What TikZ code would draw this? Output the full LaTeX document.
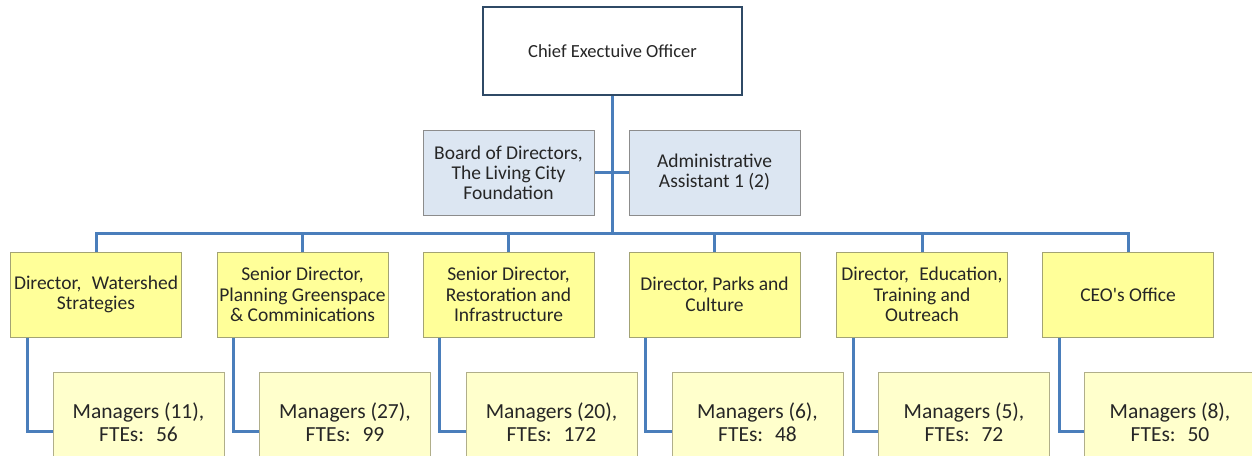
\documentclass[tikz,border=0pt]{standalone}
\usepackage{fontspec}
\setmainfont{Carlito}
\definecolor{conn}{HTML}{4A7EBB}
\definecolor{ceoline}{HTML}{2F4A66}
\definecolor{dirfill}{HTML}{FFFF99}
\definecolor{dirline}{HTML}{A3A374}
\definecolor{mgrfill}{HTML}{FFFFCC}
\definecolor{mgrline}{HTML}{B0AE8A}
\definecolor{bluefill}{HTML}{DCE6F2}
\definecolor{blueline}{HTML}{8C8C8C}
\begin{document}
\begin{tikzpicture}[x=1pt,y=-1pt,
  boxbase/.style={draw, rectangle, align=center, inner sep=0pt, text=black!85},
  ceobox/.style={boxbase, draw=ceoline, line width=2pt, fill=white, minimum width=259pt, minimum height=88pt, font=\fontsize{18.5}{22}\selectfont},
  bluebox/.style={boxbase, draw=blueline, line width=1pt, fill=bluefill, minimum width=171pt, minimum height=85pt, font=\fontsize{19.5}{20}\selectfont},
  dirbox/.style={boxbase, draw=dirline, line width=1pt, fill=dirfill, minimum width=171pt, minimum height=85pt, font=\fontsize{19.5}{20.7}\selectfont},
  mgrbox/.style={boxbase, draw=mgrline, line width=1pt, fill=mgrfill, minimum width=171pt, minimum height=100pt, font=\fontsize{21.5}{23}\selectfont},
  link/.style={draw=conn, line width=3pt}
]
\clip (0,0) rectangle (1252,455);
\fill[white] (0,0) rectangle (1252,455);

% CEO
\node[ceobox] (ceo) at (612.5,51) {Chief Exectuive Officer};
% staff
\node[bluebox] (board) at (508.5,172.5) {Board of Directors,\\The Living City\\Foundation};
\node[bluebox] (admin) at (714.5,172.5) {Administrative\\Assistant 1 (2)};

% directors
\node[dirbox] (d1) at (96,294.5) {Director,\hspace{0.3em} Watershed\\Strategies};
\node[dirbox] (d2) at (302.5,294.5) {Senior Director,\\Planning Greenspace\\\& Comminications};
\node[dirbox] (d3) at (508.5,294.5) {Senior Director,\\Restoration and\\Infrastructure};
\node[dirbox] (d4) at (714.5,294.5) {Director, Parks and\\Culture};
\node[dirbox] (d5) at (922,294.5) {Director,\hspace{0.3em} Education,\\Training and\\Outreach};
\node[dirbox] (d6) at (1128,294.5) {CEO\textquotesingle s Office};

% managers
\node[mgrbox] (m1) at (138.5,422) {Managers (11),\\FTEs:\hspace{0.25em} 56};
\node[mgrbox] (m2) at (345,422) {Managers (27),\\FTEs:\hspace{0.25em} 99};
\node[mgrbox] (m3) at (551.5,422) {Managers (20),\\FTEs:\hspace{0.25em} 172};
\node[mgrbox] (m4) at (757.5,422) {Managers (6),\\FTEs:\hspace{0.25em} 48};
\node[mgrbox] (m5) at (964,422) {Managers (5),\\FTEs:\hspace{0.25em} 72};
\node[mgrbox] (m6) at (1170,422) {Managers (8),\\FTEs:\hspace{0.25em} 50};

\coordinate (bus) at (612.5,233);

% connectors
\draw[link] (ceo.south) -- (bus);
\draw[link] (board.east) -- (admin.west);
\foreach \d in {d1,d2,d3,d4,d5,d6}{
  \draw[link] (bus) -| (\d.north);
}
\foreach \d/\m in {d1/m1,d2/m2,d3/m3,d4/m4,d5/m5,d6/m6}{
  \draw[link] ([xshift=-69pt]\d.south) |- ([yshift=-9pt]\m.west);
}
\end{tikzpicture}
\end{document}
